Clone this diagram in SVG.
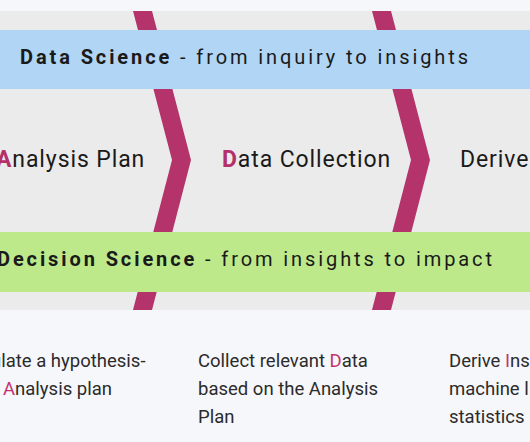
<svg xmlns="http://www.w3.org/2000/svg" width="530" height="442" viewBox="0 0 530 442">
<style>
.hdr{font-family:Roboto,"Liberation Sans",sans-serif;font-size:20px;letter-spacing:2.9px;fill:#1a1a1a}
.b{font-weight:bold}
.step{font-family:Roboto,"Liberation Sans",sans-serif;font-size:23px;letter-spacing:0.9px;fill:#1a1a1a}
.hl{fill:#b3306a;font-weight:bold}
.desc{font-family:Roboto,"Liberation Sans",sans-serif;font-size:18.5px;fill:#2b2b2b}
.m{fill:#c2336f}
.chev{fill:#b3336a}
</style>
<rect x="0" y="0" width="530" height="442" fill="#f6f7fb"/>
<rect x="0" y="11" width="530" height="299" fill="#ebebeb"/>
<g id="connectors">
<polygon class="chev" points="133,11 152,11 191,160 152,310 133,310 172,160"/>
<polygon class="chev" points="372,11 391,11 430,160 391,310 372,310 411,160"/>
</g>
<g id="data-science">
<rect x="0" y="30" width="530" height="59" fill="#b1d5f5"/>
<text class="hdr" x="20" y="64"><tspan class="b">Data Science</tspan> - from inquiry to insights</text>
</g>
<g id="decision-science">
<rect x="0" y="232" width="530" height="60" fill="#bde98b"/>
<text class="hdr" x="-3" y="266"><tspan class="b">Decision Science</tspan> - from insights to impact</text>
</g>
<g id="analysis-plan">
<text class="step" x="-4" y="167"><tspan class="hl">A</tspan>nalysis Plan</text>
<text class="desc" x="-9" y="367">ulate a hypothesis-</text>
<text class="desc" x="3" y="395"><tspan class="m">A</tspan>nalysis plan</text>
</g>
<g id="data-collection">
<text class="step" x="222" y="167"><tspan class="hl">D</tspan>ata Collection</text>
<text class="desc" x="198" y="367">Collect relevant <tspan class="m">D</tspan>ata</text>
<text class="desc" x="198" y="395">based on the Analysis</text>
<text class="desc" x="198" y="423">Plan</text>
</g>
<g id="derive-insights">
<text class="step" x="460" y="167">Derive</text>
<text class="desc" x="449" y="367">Derive <tspan class="m">I</tspan>ns</text>
<text class="desc" x="449" y="395">machine l</text>
<text class="desc" x="449" y="423">statistics</text>
</g>
</svg>
